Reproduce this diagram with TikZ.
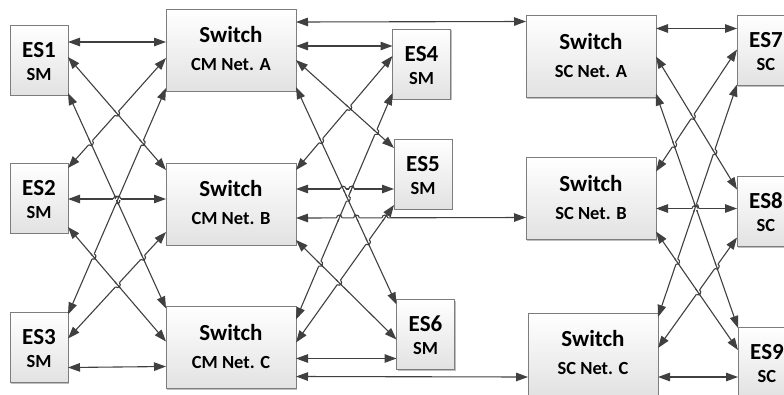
\documentclass[tikz,border=0pt]{standalone}
\usepackage{fontspec}
\setmainfont{Carlito}
\usetikzlibrary{arrows.meta,calc,shadows,intersections}
\definecolor{linegray}{RGB}{64,64,64}
\definecolor{boxedge}{RGB}{125,125,125}
\definecolor{boxbottom}{RGB}{226,226,226}
\tikzset{
  unit/.style={draw=boxedge, line width=0.8pt, top color=white, bottom color=boxbottom,
    inner sep=0pt, outer sep=0pt,
    drop shadow={shadow xshift=1.4pt, shadow yshift=-1.4pt, opacity=0.25, fill=black}},
  esunit/.style={unit, minimum width=58pt, minimum height=70pt},
  swunit/.style={unit, minimum width=130pt, minimum height=82pt},
  ttl/.style={font=\fontsize{23}{23}\selectfont\bfseries, anchor=base, inner sep=0pt},
  subttl/.style={font=\fontsize{18.5}{18.5}\selectfont\bfseries, anchor=base, inner sep=0pt},
  link/.style={draw=linegray, line width=1.1pt,
    {Triangle[length=12pt,width=8.5pt]}-{Triangle[length=12pt,width=8.5pt]}},
  wire/.style={draw=linegray, line width=1.1pt},
}
% end system box: name, x, y (centre), title, role
\newcommand\esbox[5]{%
  \node[esunit] (#1) at (#2,#3) {};
  \node[ttl] (#1t) at ($(#1.center)+(0,-3)$) {#4};
  \node[subttl] (#1s) at ($(#1.center)+(0,20)$) {#5};
}
% switch box: name, x, y (centre), network label
\newcommand\swbox[4]{%
  \node[swunit] (#1) at (#2,#3) {};
  \node[ttl] (#1t) at ($(#1.center)+(0,-7.5)$) {Switch};
  \node[subttl] (#1s) at ($(#1.center)+(0,20.5)$) {#4};
}
% double-headed link: id, box corner, offset down, box corner, offset down
\newcommand\lnk[5]{%
  \coordinate (#1-s) at ($(#2)+(0,#3)$);
  \coordinate (#1-e) at ($(#4)+(0,#5)$);
  \draw[link, name path=#1] (#1-s) -- (#1-e);
}
% line jump: link #2 hops over link #1 where they cross (if they do)
\newcommand\hop[2]{%
  \path[name intersections={of=#1 and #2, name=hx, total=\t}] \pgfextra{\xdef\hopcount{\t}};
  \ifnum\hopcount>0
    \coordinate (hpA) at ($(hx-1)!2.8pt!(#2-s)$);
    \coordinate (hpB) at ($(hx-1)!2.8pt!(#2-e)$);
    \draw[white, line width=2.6pt] (hpA) -- (hpB);
    \draw[wire] ($(hx-1)!4pt!(#1-s)$) -- ($(hx-1)!4pt!(#1-e)$);
    \draw[wire] (hpA) .. controls ($(hpA)!3.7pt!90:(hx-1)$) and ($(hpB)!3.7pt!-90:(hx-1)$) .. (hpB);
  \fi
}
% all jumps among links #1 1..#2
\newcommand\hopall[2]{%
  \foreach \i in {1,...,#2}{%
    \foreach \j in {1,...,#2}{%
      \ifnum\j>\i \hop{#1\i}{#1\j}\fi
    }%
  }%
}
\begin{document}
\begin{tikzpicture}[x=1pt,y=-1pt]
\useasboundingbox (0,0) rectangle (784,394);
\clip (0,0) rectangle (784,394);

% boxes
\esbox{es1}{39}{60}{ES1}{SM}
\esbox{es2}{39}{198}{ES2}{SM}
\esbox{es3}{39}{347.5}{ES3}{SM}
\swbox{cma}{231}{50}{CM Net. A}
\swbox{cmb}{231}{204}{CM Net. B}
\swbox{cmc}{231}{347.5}{CM Net. C}
\esbox{es4}{421.5}{64}{ES4}{SM}
\esbox{es5}{423}{174}{ES5}{SM}
\esbox{es6}{425.5}{334.5}{ES6}{SM}
\swbox{sca}{591}{56.5}{SC Net. A}
\swbox{scb}{591}{198.5}{SC Net. B}
\swbox{scc}{593}{354}{SC Net. C}
\esbox{es7}{766}{50.5}{ES7}{SC}
\esbox{es8}{766}{211.5}{ES8}{SC}
\esbox{es9}{767}{362}{ES9}{SC}

% SM end systems to CM switches (diagonals first, straight links last)
\lnk{a1}{es1.north east}{32}{cmb.north west}{7}
\lnk{a2}{es1.north east}{68}{cmc.north west}{2}
\lnk{a3}{cma.north west}{49}{es2.north east}{5}
\lnk{a4}{es2.north east}{64}{cmc.north west}{35}
\lnk{a5}{cma.north west}{79}{es3.north east}{2}
\lnk{a6}{cmb.north west}{69}{es3.north east}{26}
\lnk{a7}{es1.north east}{17}{cma.north west}{33}
\lnk{a8}{es2.north east}{36}{cmb.north west}{36}
\lnk{a9}{es3.north east}{55}{cmc.north west}{60}

% CM switches to SM end systems and SC switches
\lnk{b1}{cma.north east}{51}{es5.north west}{9}
\lnk{b2}{cma.north east}{78}{es6.north west}{5}
\lnk{b3}{es4.north west}{27}{cmb.north east}{7}
\lnk{b4}{cmb.north east}{77}{es6.north west}{40}
\lnk{b5}{es4.north west}{64}{cmc.north east}{13}
\lnk{b6}{es5.north west}{66}{cmc.north east}{36}
\lnk{b7}{cma.north east}{13}{sca.north west}{6}
\lnk{b8}{cma.north east}{37}{es4.north west}{17}
\lnk{b9}{cmb.north east}{26}{es5.north west}{50}
\lnk{b10}{cmb.north east}{55}{scb.north west}{60}
\lnk{b11}{cmc.north east}{52}{es6.north west}{59}
\lnk{b12}{cmc.north east}{70}{scc.north west}{64}

% SC switches to SC end systems
\lnk{c1}{sca.north east}{41}{es8.north west}{13}
\lnk{c2}{sca.north east}{78}{es9.north west}{1}
\lnk{c3}{es7.north west}{34}{scb.north east}{14}
\lnk{c4}{scb.north east}{74}{es9.north west}{23}
\lnk{c5}{es7.north west}{69}{scc.north east}{4}
\lnk{c6}{es8.north west}{61}{scc.north east}{35}
\lnk{c7}{sca.north east}{13}{es7.north west}{13}
\lnk{c8}{scb.north east}{51}{es8.north west}{32}
\lnk{c9}{scc.north east}{64}{es9.north west}{50}

% line jumps at every crossing
\hopall{a}{9}
\hopall{b}{12}
\hopall{c}{9}
\end{tikzpicture}
\end{document}
